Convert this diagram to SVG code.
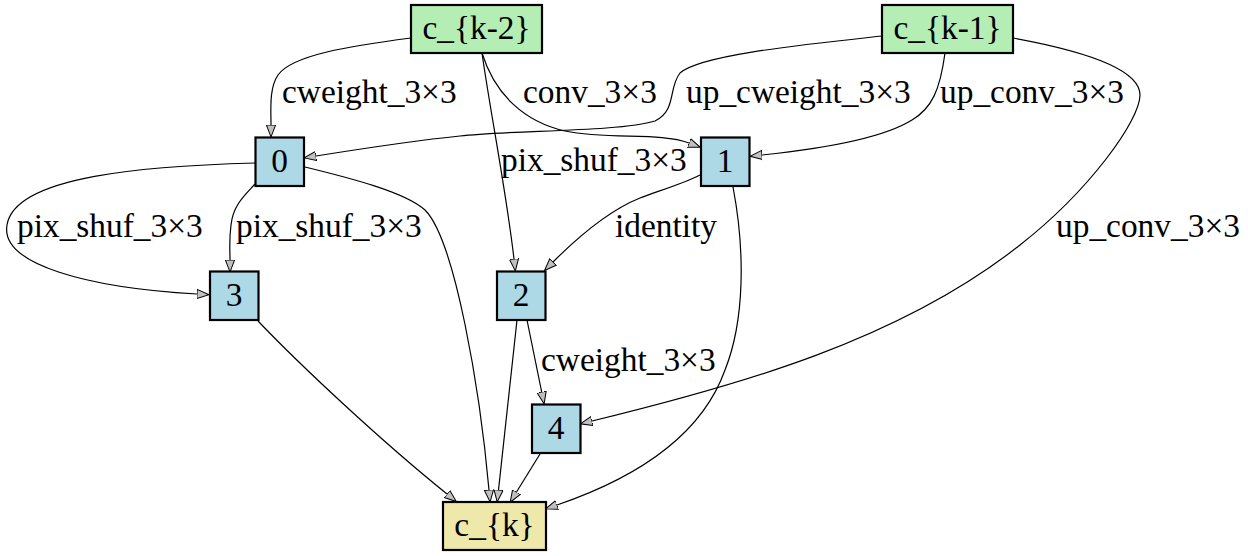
<svg xmlns="http://www.w3.org/2000/svg" width="1248" height="556" viewBox="0 0 1248 556">
<defs>
<style>
.n rect{stroke:#000;stroke-width:2.2}
.in rect{fill:#b4eeb4}
.mid rect{fill:#add8e6}
.out rect{fill:#eee8aa}
text{font-family:"Liberation Serif","Times New Roman",serif;font-size:33.4px;fill:#000}
.n text{text-anchor:middle}
.e path{fill:none;stroke:#000;stroke-width:1.2;marker-end:url(#ah)}
</style>
<marker id="ah" markerUnits="userSpaceOnUse" markerWidth="16" markerHeight="12" viewBox="0 -6 16 12" refX="0" refY="0" orient="auto">
<path d="M0,-4.6 L12,0 L0,4.6 z" fill="#c0c0c0" stroke="#000" stroke-width="1"/>
</marker>
</defs>
<rect width="1248" height="556" fill="#fff"/>
<g id="edges" class="e">
<path d="M411,38 C350,46 292,55 278,75 C269,88 271,110 271,125"/>
<path d="M482,53 C495,95 525,122 565,131 C610,140 660,132 689,143"/>
<path d="M882,36 C800,45 700,55 680,73 C668,88 677,110 655,121 C620,132 510,130 460,136 C420,140 360,149 316,156"/>
<path d="M945,53 C940,90 932,108 912,120 C880,140 810,150 762,155"/>
<path d="M1013,38 C1090,52 1140,70 1140,95 C1140,120 1090,190 1020,245 C900,340 740,385 592,421"/>
<path d="M482,53 C490,110 506,190 514,259"/>
<path d="M700,175 C680,185 655,192 640,198 C610,210 580,235 553,262"/>
<path d="M733,187 C745,250 745,320 725,370 C700,440 630,480 557,505"/>
<path d="M255,184 C245,195 233,205 231,225 C229,240 230,250 230,260"/>
<path d="M255,163 C150,166 15,175 7,225 C0,265 90,288 197,294"/>
<path d="M305,167 C350,178 405,192 425,210 C455,240 480,390 489,490"/>
<path d="M258,321 C300,365 380,440 447,494"/>
<path d="M517,320 L498.5,490"/>
<path d="M527,320 L541.7,392"/>
<path d="M540,454 L516.5,492"/>
</g>
<g id="edge-labels">
<text x="282" y="103">cweight_3×3</text>
<text x="523" y="103">conv_3×3</text>
<text x="686" y="103">up_cweight_3×3</text>
<text x="940" y="103">up_conv_3×3</text>
<text x="501" y="171">pix_shuf_3×3</text>
<text x="615" y="237">identity</text>
<text x="17" y="237">pix_shuf_3×3</text>
<text x="236" y="237">pix_shuf_3×3</text>
<text x="1056" y="237">up_conv_3×3</text>
<text x="541" y="371">cweight_3×3</text>
</g>
<g id="node-ck2" class="n in"><rect x="411" y="5" width="131" height="48"/><text x="476.5" y="39">c_{k-2}</text></g>
<g id="node-ck1" class="n in"><rect x="882" y="5" width="131" height="48"/><text x="947.5" y="39">c_{k-1}</text></g>
<g id="node-0" class="n mid"><rect x="255.5" y="137.5" width="48.5" height="48.5"/><text x="279.7" y="172">0</text></g>
<g id="node-1" class="n mid"><rect x="701" y="137.5" width="48.5" height="48.5"/><text x="725.2" y="172">1</text></g>
<g id="node-3" class="n mid"><rect x="210" y="271.5" width="48.5" height="48.5"/><text x="234.2" y="306">3</text></g>
<g id="node-2" class="n mid"><rect x="497" y="271.5" width="48.5" height="48.5"/><text x="521.2" y="306">2</text></g>
<g id="node-4" class="n mid"><rect x="532" y="404.5" width="48.5" height="48.5"/><text x="556.2" y="439">4</text></g>
<g id="node-ck" class="n out"><rect x="443" y="502" width="103" height="48"/><text x="494.5" y="536">c_{k}</text></g>
</svg>
